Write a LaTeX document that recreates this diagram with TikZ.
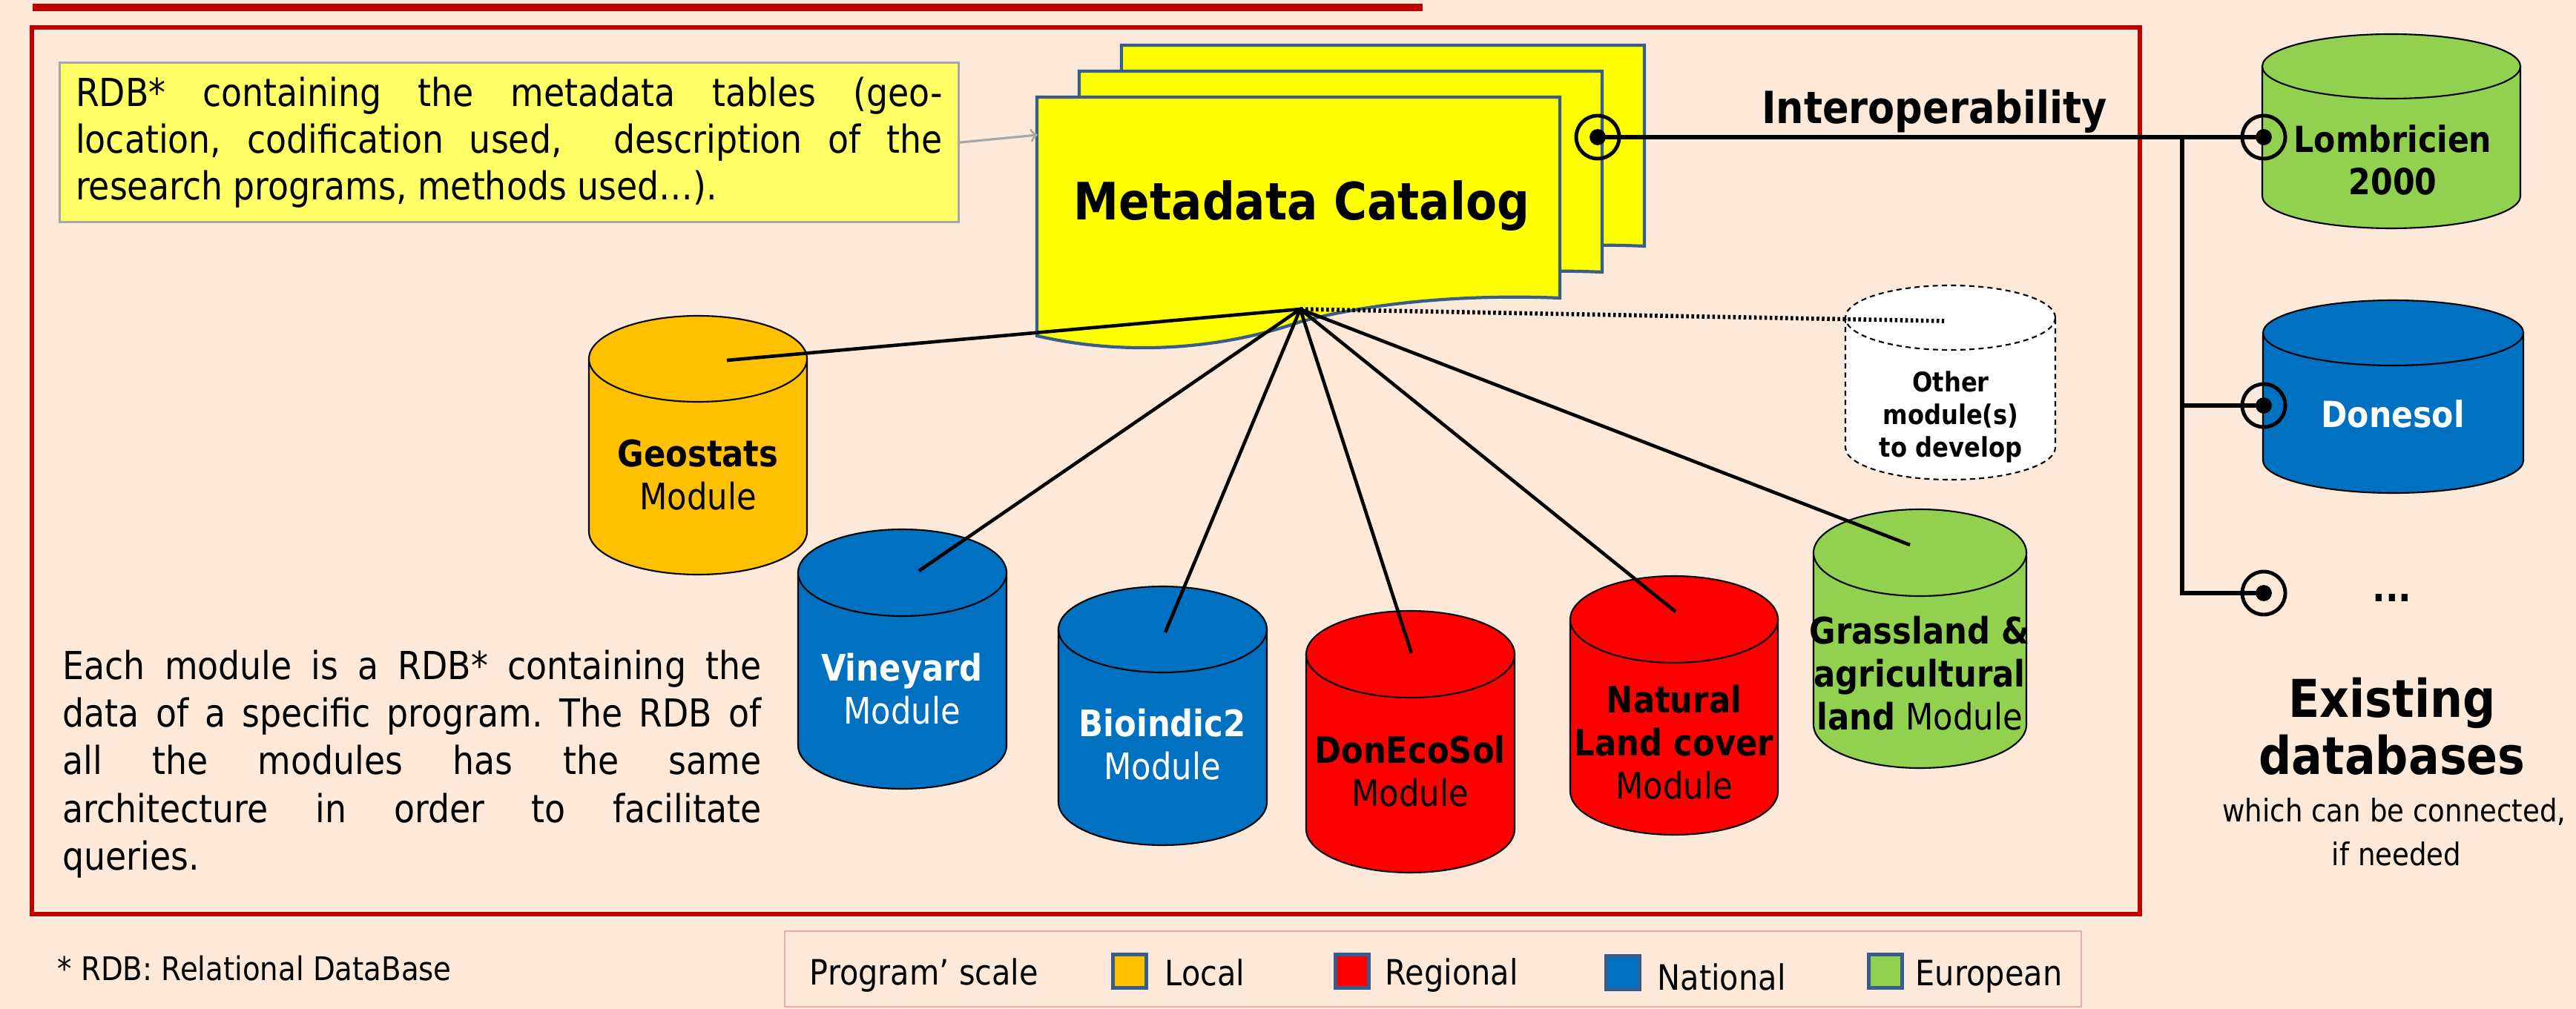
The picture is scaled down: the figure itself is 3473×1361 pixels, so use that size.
\documentclass[tikz,border=0pt]{standalone}
\usepackage{fontspec}
\setmainfont{DejaVu Sans}[FakeStretch=0.88]
\usetikzlibrary{positioning}
\frenchspacing

\definecolor{bgpeach}{HTML}{FDE9D9}
\definecolor{framered}{HTML}{C00000}
\definecolor{notey}{HTML}{FFFF66}
\definecolor{caty}{HTML}{FFFF00}
\definecolor{sheetblue}{HTML}{385D8A}
\definecolor{notegray}{HTML}{A6A6A6}
\definecolor{legline}{HTML}{EBAFA3}
\definecolor{localc}{HTML}{FFC000}
\definecolor{regc}{HTML}{FF0000}
\definecolor{natc}{HTML}{0070C0}
\definecolor{eurc}{HTML}{92D050}

\tikzset{
  cyl/.style={draw=black, line width=0.6pt},
  modtxt/.style={align=center, inner sep=0pt, font=\fontsize{14}{16.5}\selectfont},
  link/.style={line width=1.3pt},
  interop/.style={line width=1.6pt},
  knob/.style={circle, draw, line width=1.4pt, minimum size=0.58cm, inner sep=0pt},
  sheet/.style={fill=caty, draw=sheetblue, line width=1.2pt},
  legsq/.style={draw=sheetblue, line width=1.3pt, minimum size=0.45cm, inner sep=0pt},
  legtxt/.style={anchor=base west, inner sep=0pt, font=\fontsize{13.4}{16}\selectfont},
}

% style, cx, top, bottom, rx, ry
\newcommand{\dbcyl}[6]{%
  \path[#1] (#2-#5,#3+#6) -- (#2-#5,#4-#6)
    arc[start angle=180, end angle=0, x radius=#5, y radius=#6]
    -- (#2+#5,#3+#6) -- cycle;
  \path[#1] (#2,#3+#6) ellipse[x radius=#5, y radius=#6];
}
% top left corner of a catalog sheet
\newcommand{\docsheet}[2]{%
  \draw[sheet] (#1,#2) -- ++(705,0) -- ++(0,271)
    .. controls (#1+590,#2+266) and (#1+460,#2+275) .. (#1+355,#2+303)
    .. controls (#1+250,#2+340) and (#1+120,#2+350) .. (#1,#2+322) -- cycle;
}

\begin{document}
\begin{tikzpicture}[x=0.01cm, y=-0.01cm]
\fill[bgpeach] (0,0) rectangle (3473,1361);
\useasboundingbox (0,0) rectangle (3473,1361);

\fill[framered] (44,5) rectangle (1918,15);
\draw[framered, line width=1.5pt] (43,37) rectangle (2885,1233);

\node[fill=notey, draw=notegray, line width=0.9pt, anchor=north west,
  minimum width=12.11cm, minimum height=2.15cm, inner xsep=0.215cm,
  text width=11.68cm, align=justify, font=\fontsize{14.8}{18}\selectfont]
  (note) at (79,83) {RDB* containing the metadata tables (geo-\linebreak
  location, codification used,\ \ description of the\linebreak
  research programs, methods used…).};

\docsheet{1512}{61}
\docsheet{1455}{96}
\docsheet{1398}{131}
\node[anchor=base, inner sep=0pt, font=\fontsize{19.8}{23}\selectfont\bfseries]
  (cat) at (1755,297) {Metadata Catalog};
\coordinate (catIn) at (1399,182);
\coordinate (hub) at (1753,417);
\draw[->, notegray, line width=0.9pt] (note.east) -- (catIn);

\dbcyl{cyl, fill=localc}{941}{426}{775}{147}{58}
\dbcyl{cyl, fill=natc}{1216.5}{714}{1064}{140.5}{58.5}
\dbcyl{cyl, fill=natc}{1567.5}{791}{1140}{140.5}{58}
\dbcyl{cyl, fill=regc}{1901.5}{824}{1177}{140.5}{58.5}
\dbcyl{cyl, fill=regc}{2257}{777}{1126}{140}{58.5}
\dbcyl{cyl, fill=eurc}{2588.5}{687}{1036}{143.5}{58.5}
\dbcyl{cyl, fill=white, dash pattern=on 2pt off 1.5pt}{2629.5}{385}{647}{141.5}{43.5}
\dbcyl{cyl, fill=eurc}{3224}{46}{308}{174}{43.5}
\dbcyl{cyl, fill=natc}{3226.5}{405}{665}{175.5}{44}

\node[modtxt] (geo) at (941,641) {\textbf{Geostats}\\Module};
\node[modtxt, text=white] (vine) at (1216,929) {\textbf{Vineyard}\\Module};
\node[modtxt, text=white] (bio) at (1567,1004) {\textbf{Bioindic2}\\Module};
\node[modtxt] (donec) at (1901,1040) {\textbf{DonEcoSol}\\Module};
\node[modtxt] (nat) at (2257,1001) {\textbf{Natural}\\\textbf{Land cover}\\Module};
\node[modtxt] (grass) at (2588,908) {\textbf{Grassland \&}\\\textbf{agricultural}\\\textbf{land} Module};
\node[modtxt, font=\fontsize{10.4}{12.5}\selectfont\bfseries] (other) at (2630,562)
  {Other\\module(s)\\to develop};
\node[modtxt, font=\fontsize{13.8}{16.4}\selectfont\bfseries] (lomb) at (3226,216)
  {Lombricien\\2000};
\node[modtxt, text=white, font=\fontsize{13.8}{16.4}\selectfont\bfseries] (dones) at (3226,558)
  {Donesol};

\coordinate (geoIn) at (980,486);
\coordinate (vineIn) at (1239,770);
\coordinate (bioIn) at (1571,853);
\coordinate (donecIn) at (1903,881);
\coordinate (natIn) at (2259,825);
\coordinate (grassIn) at (2575,735);
\coordinate (otherIn) at (2621,433);

\foreach \m in {geoIn,vineIn,bioIn,donecIn,natIn,grassIn}
  \draw[link] (hub) -- (\m);
\draw[line width=1.6pt, dash pattern=on 1pt off 1pt] (hub) -- (otherIn);

\node[knob] (catKnob) at (2154,185) {};
\node[knob] (lombKnob) at (3052,185) {};
\node[knob] (donesKnob) at (3052,547) {};
\node[knob] (moreKnob) at (3052,800) {};
\foreach \k in {catKnob,lombKnob,donesKnob,moreKnob}
  \fill (\k.center) circle (3.1pt);
\coordinate (branch) at (2942,185);
\draw[interop] (catKnob.center) -- (lombKnob.center);
\draw[interop] (branch) |- (donesKnob.center);
\draw[interop] (branch) |- (moreKnob.center);
\node[anchor=base, inner sep=0pt, font=\fontsize{17}{20}\selectfont\bfseries]
  (interop) at (2608,167) {Interoperability};
\node[anchor=base, inner sep=0pt, font=\fontsize{15}{18}\selectfont\bfseries]
  (more) at (3225,811) {...};

\node[anchor=base, inner sep=0pt, font=\fontsize{20}{22}\selectfont\bfseries]
  (exist) at (3225,967) {Existing};
\node[anchor=base, inner sep=0pt, font=\fontsize{20}{22}\selectfont\bfseries]
  (dbs) at (3225,1044) {databases};
\node[anchor=base, inner sep=0pt, font=\fontsize{12}{16}\selectfont]
  (conn) at (3228,1108) {which can be connected,};
\node[anchor=base, inner sep=0pt, font=\fontsize{12}{16}\selectfont]
  (ifn) at (3231,1167) {if needed};

\node[anchor=north west, inner sep=0pt, text width=9.41cm, align=justify,
  font=\fontsize{14.8}{18.3}\selectfont] (each) at (84,876)
  {Each module is a RDB* containing the\linebreak
  data of a specific program. The RDB of\linebreak
  all the modules has the same\linebreak
  architecture in order to facilitate\linebreak
  queries.};

\node[anchor=base west, inner sep=0pt, font=\fontsize{12.5}{15}\selectfont]
  (foot) at (77,1322) {* RDB: Relational DataBase};

\draw[legline, line width=0.8pt] (1058,1256) rectangle (2806,1358);
\node[legtxt] (scale) at (1091,1328) {Program’ scale};
\node[legsq, fill=localc] (sqLocal) at (1523,1310) {};
\node[legtxt] (tLocal) at (1570,1329) {Local};
\node[legsq, fill=regc] (sqReg) at (1823,1310) {};
\node[legtxt] (tReg) at (1867,1328) {Regional};
\node[legsq, fill=natc] (sqNat) at (2188,1312) {};
\node[legtxt] (tNat) at (2234,1335) {National};
\node[legsq, fill=eurc] (sqEur) at (2542,1310) {};
\node[legtxt] (tEur) at (2582,1329) {European};
\end{tikzpicture}
\end{document}
